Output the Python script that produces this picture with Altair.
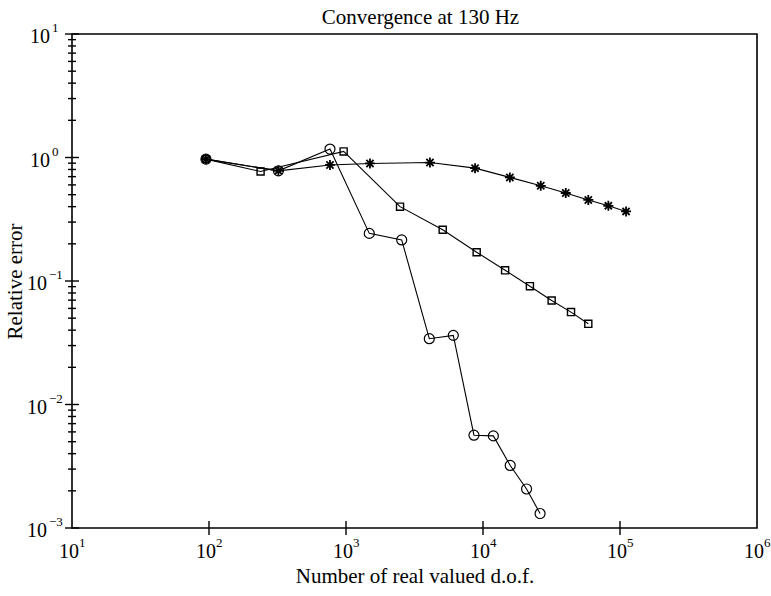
import altair as alt
import pandas as pd

# Relative error versus number of real valued degrees of freedom, three refinement families
circ_dof = [95, 321, 764, 1479, 2550, 4055, 6070, 8590, 11900, 15800, 20800, 26100]
circ_err = [0.97, 0.78, 1.17, 0.243, 0.215, 0.0341, 0.0363, 0.00564, 0.00557, 0.00321, 0.00207, 0.00131]

sq_dof = [95, 238, 961, 2480, 5080, 8990, 14500, 22000, 31700, 43900, 58700]
sq_err = [0.97, 0.77, 1.12, 0.40, 0.26, 0.171, 0.122, 0.0908, 0.0695, 0.056, 0.045]

star_dof = [95, 321, 764, 1496, 4100, 8750, 15700, 26400, 40200, 58700, 82200, 110700]
star_err = [0.97, 0.78, 0.87, 0.895, 0.91, 0.82, 0.69, 0.59, 0.516, 0.453, 0.406, 0.366]

# Decade exponents for the tick labels
x_exps = [1, 2, 3, 4, 5, 6]
y_exps = [-3, -2, -1, 0, 1]

FONT = "Liberation Serif"
W, H = 685, 494

rows = []
for name, xs, ys in [("circle", circ_dof, circ_err),
                     ("square", sq_dof, sq_err),
                     ("star", star_dof, star_err)]:
    for i, (a, b) in enumerate(zip(xs, ys)):
        rows.append({"series": name, "order": i, "dof": a, "err": b})
df = pd.DataFrame(rows)

xscale = alt.Scale(type="log", domain=[10, 1e6], nice=False)
yscale = alt.Scale(type="log", domain=[1e-3, 10], nice=False)


def sup(e):
    return str(e).replace("-", "\u2212")


x_lab = pd.DataFrame({"v": [10.0 ** e for e in x_exps], "base": "10",
                      "exp": [sup(e) for e in x_exps]})
y_lab = pd.DataFrame({"v": [10.0 ** e for e in y_exps], "base": "10",
                      "exp": [sup(e) for e in y_exps], "neg": [e < 0 for e in y_exps]})

y_major = pd.DataFrame({"v": [10.0 ** e for e in y_exps]})
y_minor = pd.DataFrame({"v": [m * 10.0 ** e for e in range(-3, 1) for m in range(2, 10)]})
x_major = pd.DataFrame({"v": [10.0 ** e for e in x_exps[1:-1]]})

lines = alt.Chart(df).mark_line(color="black", strokeWidth=1.1).encode(
    x=alt.X("dof:Q", scale=xscale,
            axis=alt.Axis(title="Number of real valued d.o.f.", labels=False, ticks=False,
                          domain=False, grid=False, titlePadding=37)),
    y=alt.Y("err:Q", scale=yscale,
            axis=alt.Axis(title="Relative error", labels=False, ticks=False,
                          domain=False, grid=False, titlePadding=47)),
    detail="series:N",
    order="order:Q",
)

base_pts = alt.Chart(df).encode(x=alt.X("dof:Q", scale=xscale), y=alt.Y("err:Q", scale=yscale))
circles = base_pts.transform_filter("datum.series == 'circle'").mark_point(
    shape="circle", size=100, filled=False, stroke="black", strokeWidth=1.2, opacity=1)
squares = base_pts.transform_filter("datum.series == 'square'").mark_point(
    shape="square", size=50, filled=False, stroke="black", strokeWidth=1.4, opacity=1)
stars = base_pts.transform_filter("datum.series == 'star'").mark_point(
    shape="M-1,0L1,0M0,-1L0,1M-0.72,-0.72L0.72,0.72M-0.72,0.72L0.72,-0.72",
    size=100, filled=False, stroke="black", strokeWidth=1.8, opacity=1)

# Inward ticks on the left and bottom edges
ymaj = alt.Chart(y_major).mark_tick(color="black", thickness=1.4, size=14, orient="horizontal",
                                    opacity=1).encode(
    y=alt.Y("v:Q", scale=yscale), x=alt.value(0))
ymin = alt.Chart(y_minor).mark_tick(color="black", thickness=1.4, size=8, orient="horizontal",
                                    opacity=1).encode(
    y=alt.Y("v:Q", scale=yscale), x=alt.value(0))
xmaj = alt.Chart(x_major).mark_tick(color="black", thickness=1.4, size=14, orient="vertical",
                                    opacity=1).encode(
    x=alt.X("v:Q", scale=xscale), y=alt.value(H))

# Tick labels as 10 with a raised exponent
xl_base = alt.Chart(x_lab).mark_text(font=FONT, fontSize=20, align="center", dx=-3,
                                     baseline="alphabetic").encode(
    x=alt.X("v:Q", scale=xscale), y=alt.value(H + 30), text="base:N")
xl_exp = alt.Chart(x_lab).mark_text(font=FONT, fontSize=13, align="left", dx=7,
                                    baseline="alphabetic").encode(
    x=alt.X("v:Q", scale=xscale), y=alt.value(H + 19), text="exp:N")

yl_base_neg = alt.Chart(y_lab).transform_filter("datum.neg").mark_text(
    font=FONT, fontSize=20, align="right", dy=9, baseline="alphabetic").encode(
    y=alt.Y("v:Q", scale=yscale), x=alt.value(-25), text="base:N")
yl_base_pos = alt.Chart(y_lab).transform_filter("!datum.neg").mark_text(
    font=FONT, fontSize=20, align="right", dy=9, baseline="alphabetic").encode(
    y=alt.Y("v:Q", scale=yscale), x=alt.value(-22), text="base:N")
yl_exp_neg = alt.Chart(y_lab).transform_filter("datum.neg").mark_text(
    font=FONT, fontSize=13, align="left", dy=-2, baseline="alphabetic").encode(
    y=alt.Y("v:Q", scale=yscale), x=alt.value(-23), text="exp:N")
yl_exp_pos = alt.Chart(y_lab).transform_filter("!datum.neg").mark_text(
    font=FONT, fontSize=13, align="left", dy=-2, baseline="alphabetic").encode(
    y=alt.Y("v:Q", scale=yscale), x=alt.value(-20), text="exp:N")

chart = alt.layer(
    lines, circles, squares, stars, ymaj, ymin, xmaj,
    xl_base, xl_exp, yl_base_neg, yl_base_pos, yl_exp_neg, yl_exp_pos,
).properties(
    width=W, height=H,
    title=alt.TitleParams("Convergence at 130 Hz", font=FONT, fontSize=21, fontWeight="normal",
                          color="black", offset=8, dx=6, dy=14),
    padding={"left": 72, "top": 34, "right": 14, "bottom": 68},
    autosize=alt.AutoSizeParams(type="none"),
).configure_view(
    stroke="black", strokeWidth=1.6
).configure_axis(
    titleFont=FONT, titleFontSize=21, titleFontWeight="normal", titleColor="black"
)

chart.save("out.html", embed_options={"renderer": "svg", "actions": False})
